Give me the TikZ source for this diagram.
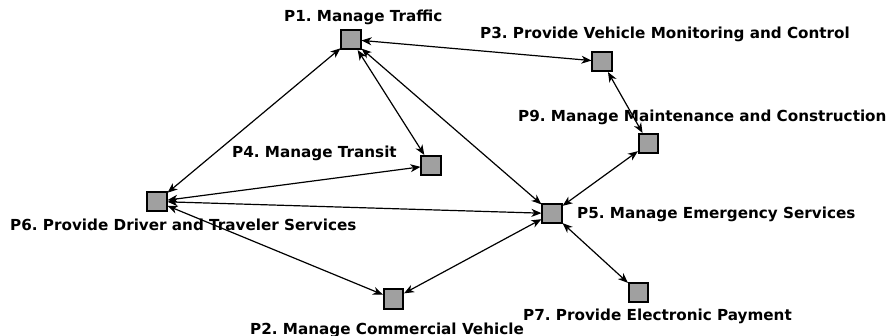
\documentclass[tikz,border=0pt]{standalone}
\usepackage{fontspec}
\setmainfont{DejaVu Sans}
\usetikzlibrary{arrows.meta}
\definecolor{boxgray}{RGB}{160,160,160}
\frenchspacing

\begin{document}
\begin{tikzpicture}[x=1pt, y=-1pt,
  proc/.style={draw, line width=1.6pt, fill=boxgray, minimum size=19.5pt, inner sep=0pt},
  pname/.style={anchor=base west, inner sep=0pt, font=\bfseries\fontsize{15.2}{18}\selectfont},
  link/.style={line width=1.2pt, {Stealth[length=10pt,width=8pt,inset=3pt]}-{Stealth[length=10pt,width=8pt,inset=3pt]}}]
\useasboundingbox (0,0) rectangle (890,336);
% process boxes
\node[proc] (p1) at (351,39.5) {};
\node[proc] (p3) at (602,61.5) {};
\node[proc] (p9) at (648.5,143.5) {};
\node[proc] (p4) at (431,165.5) {};
\node[proc] (p6) at (157,201.5) {};
\node[proc] (p5) at (552,213.5) {};
\node[proc] (p2) at (393.5,299) {};
\node[proc] (p7) at (638.5,292.5) {};
% labels
\node[pname] (p1l) at (284,22) {P1. Manage Traffic};
\node[pname] (p3l) at (480,38.5) {P3. Provide Vehicle Monitoring and Control};
\node[pname] (p9l) at (518,122) {P9. Manage Maintenance and Construction};
\node[pname] (p4l) at (232,158) {P4. Manage Transit};
\node[pname] (p6l) at (10,231) {P6. Provide Driver and Traveler Services};
\node[pname] (p5l) at (577,219) {P5. Manage Emergency Services};
\node[pname] (p2l) at (250,334) {P2. Manage Commercial Vehicle};
\node[pname] (p7l) at (523,320) {P7. Provide Electronic Payment};
% flows
\draw[link] (p1) -- (p3);
\draw[link] (p1) -- (p6);
\draw[link] (p1) -- (p4);
\draw[link] (p1) -- (p5);
\draw[link] (p3) -- (p9);
\draw[link] (p9) -- (p5);
\draw[link] (p4) -- (p6);
\draw[link] (p6) -- (p5);
\draw[link] (p6) -- (p2);
\draw[link] (p2) -- (p5);
\draw[link] (p5) -- (p7);
\end{tikzpicture}
\end{document}
